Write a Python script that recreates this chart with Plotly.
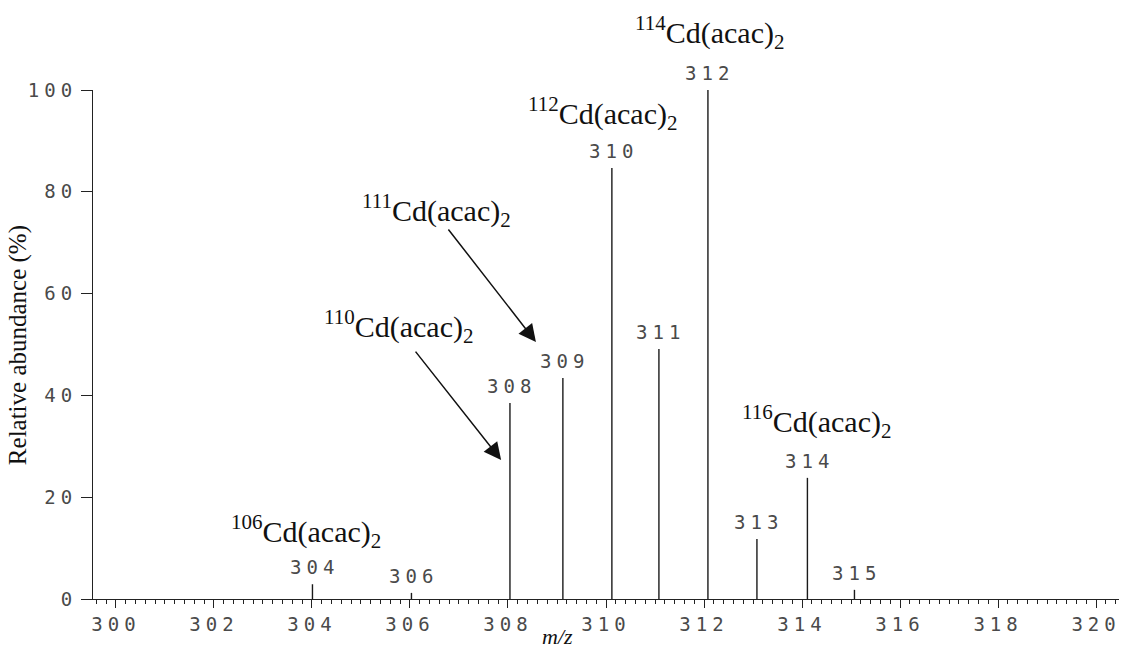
import plotly.graph_objects as go

# ---- data ----
peak_mz = [304.01, 306.03, 308.04, 309.12, 310.12, 311.08, 312.08, 313.08, 314.11, 315.07]
peak_abundance = [2.9, 1.2, 38.5, 43.4, 84.7, 49.1, 100.0, 11.8, 23.8, 1.8]
peak_labels = ["304", "306", "308", "309", "310", "311", "312", "313", "314", "315"]

x_tick_values = [300, 302, 304, 306, 308, 310, 312, 314, 316, 318, 320]
y_tick_values = [0, 20, 40, 60, 80, 100]

isotopes = ["106", "110", "111", "112", "114", "116"]

# ---- styling helpers ----
MONO = "DejaVu Sans Mono"
SERIF = "Liberation Serif, Times New Roman, serif"
LBL_COLOR = "#4a4a4a"


def spaced(t):
    return '<span style="letter-spacing:5px;font-size:19px">' + t + '</span>'


# stick spectrum built from the data arrays
xs, ys = [], []
for m, a in zip(peak_mz, peak_abundance):
    xs += [m, m, None]
    ys += [0, a, None]

fig = go.Figure()
fig.add_trace(go.Scatter(x=xs, y=ys, mode="lines",
                         line=dict(color="#1a1a1a", width=1.4),
                         hoverinfo="skip", showlegend=False))

annotations = []
# peak labels
for m, a, t in zip(peak_mz, peak_abundance, peak_labels):
    annotations.append(dict(x=m, y=a, xref="x", yref="y", text=spaced(t),
                            showarrow=False, yanchor="bottom", xanchor="center",
                            yshift=4, xshift=2,
                            font=dict(family=MONO, size=19, color=LBL_COLOR)))

# compound labels (layout positions: x in m/z, y in % of the axis height)
compound_pos = {
    "106": (303.87, 13.2),
    "110": (305.78, 53.6),
    "111": (306.54, 76.4),
    "112": (309.94, 95.3),
    "114": (312.12, 111.2),
    "116": (314.30, 34.8),
}
for iso in isotopes:
    px, py = compound_pos[iso]
    annotations.append(dict(x=px, y=py / 100.0, xref="x", yref="paper",
                            text="<sup>" + iso + "</sup>Cd(acac)<sub>2</sub>",
                            showarrow=False, xanchor="center", yanchor="middle",
                            font=dict(family=SERIF, size=30, color="#111")))

# arrows (tail -> head)
arrows = [((306.09, 48.9), (307.86, 27.3)),
          ((306.76, 72.9), (308.57, 50.5))]
for (tx, ty), (hx, hy) in arrows:
    annotations.append(dict(x=hx, y=hy, ax=tx, ay=ty, xref="x", yref="y",
                            axref="x", ayref="y", text="", showarrow=True,
                            arrowhead=2, arrowsize=2.3, arrowwidth=1.5,
                            arrowcolor="#111", standoff=0, startstandoff=0))

# axis titles
annotations.append(dict(x=(18 - 93) / 1028, y=(599 - 345) / 509, xref="paper", yref="paper",
                        text="Relative abundance (%)", textangle=-90, showarrow=False,
                        xanchor="center", yanchor="middle",
                        font=dict(family=SERIF, size=25, color="#111")))
annotations.append(dict(x=(558 - 93) / 1028, y=(599 - 636) / 509, xref="paper", yref="paper",
                        text="<i>m/z</i>", showarrow=False,
                        xanchor="center", yanchor="middle",
                        font=dict(family=SERIF, size=22, color="#111")))

fig.update_layout(
    width=1121, height=649,
    margin=dict(l=93, r=0, t=90, b=50),
    paper_bgcolor="white", plot_bgcolor="white",
    annotations=annotations,
    showlegend=False,
)

fig.update_xaxes(
    range=[300 + (93 - 116) / 49.1, 300 + (1121 - 116) / 49.1],
    tickmode="array", tickvals=x_tick_values,
    ticktext=[spaced(str(v)) for v in x_tick_values],
    ticks="outside", ticklen=8, tickwidth=1, tickcolor="#222",
    minor=dict(dtick=0.2, tick0=300, ticks="outside", ticklen=4, tickwidth=1, tickcolor="#222"),
    showline=True, linecolor="#222", linewidth=1,
    showgrid=False, zeroline=False,
    tickfont=dict(family=MONO, size=19, color=LBL_COLOR),
    ticklabelstandoff=0, ticklabeloverflow="allow",
)
fig.update_yaxes(
    range=[0, 100],
    tickmode="array", tickvals=y_tick_values,
    ticktext=[spaced(str(v)) for v in y_tick_values],
    ticks="outside", ticklen=11, tickwidth=1, tickcolor="#222",
    showline=True, linecolor="#222", linewidth=1,
    showgrid=False, zeroline=False,
    tickfont=dict(family=MONO, size=19, color=LBL_COLOR),
    ticklabelstandoff=0, ticklabeloverflow="allow",
)

fig.write_html("out.html",
               config={"displayModeBar": False},
               post_script="document.body.style.margin='0';document.body.style.overflow='hidden';")
